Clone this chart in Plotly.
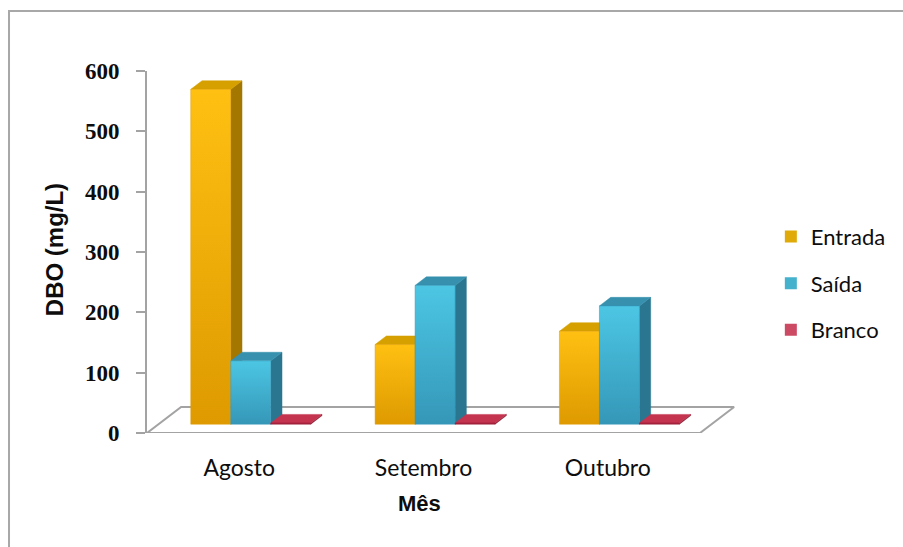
import plotly.graph_objects as go

# ---- data -------------------------------------------------------------
months = ["Agosto", "Setembro", "Outubro"]
series_names = ["Entrada", "Saída", "Branco"]
entrada = [555, 132, 154]
saida = [105, 230, 196]
branco = [2, 2, 2]
y_ticks = [0, 100, 200, 300, 400, 500, 600]

values = {"Entrada": entrada, "Saída": saida, "Branco": branco}

# ---- styling ----------------------------------------------------------
colors = {
    "Entrada": dict(bottom="#DE9A00", top="#FFC012", side="#A47700",
                    cap="#D6A000", legend="#E0AA08"),
    "Saída": dict(bottom="#3597B8", top="#4CC6E4", side="#2A7690",
                  cap="#3690AE", legend="#44B2CC"),
    "Branco": dict(bottom="#9A1E38", top="#B52A45", side="#861A31",
                   cap="#C4344F", legend="#CC4A64"),
}

BAR_W = 0.217            # width of one column, in category units
DEPTH_X = 0.185          # oblique shift of the full floor depth (x units)
DEPTH_Y = 43.0           # oblique shift of the full floor depth (y units)
BAR_FRONT, BAR_BACK = 0.34, 0.67   # depth position of the columns
X_RANGE = [-0.5, 2.717]
Y_RANGE = [0, 600]

EDGE = "#A3A3A3"
TEXT = "#0d0d0d"

fig = go.Figure()

# floor of the 3D plot area
n = len(months)
floor_x = [X_RANGE[0], n - 0.5, n - 0.5 + DEPTH_X, X_RANGE[0] + DEPTH_X, X_RANGE[0]]
floor_y = [0, 0, DEPTH_Y, DEPTH_Y, 0]
fig.add_trace(go.Scatter(
    x=floor_x, y=floor_y, mode="lines", fill="toself",
    fillcolor="white", line=dict(color=EDGE, width=2),
    hoverinfo="skip", showlegend=False))


def column_faces(x_left, v):
    """Front, side and top polygons of one oblique 3D column."""
    fx, fy = DEPTH_X * BAR_FRONT, DEPTH_Y * BAR_FRONT
    bx, by = DEPTH_X * BAR_BACK, DEPTH_Y * BAR_BACK
    x0f, x1f = x_left + fx, x_left + BAR_W + fx
    x0b, x1b = x_left + bx, x_left + BAR_W + bx
    front = ([x0f, x1f, x1f, x0f, x0f], [fy, fy, fy + v, fy + v, fy])
    side = ([x1f, x1b, x1b, x1f, x1f], [fy, by, by + v, fy + v, fy])
    top = ([x0f, x1f, x1b, x0b, x0f], [fy + v, fy + v, by + v, by + v, fy + v])
    return front, side, top


group_w = BAR_W * len(series_names)
for s, name in enumerate(series_names):
    c = colors[name]
    for i, v in enumerate(values[name]):
        x_left = i - group_w / 2 + s * BAR_W
        front, side, top = column_faces(x_left, v)
        fig.add_trace(go.Scatter(
            x=side[0], y=side[1], mode="lines", fill="toself",
            fillcolor=c["side"], line=dict(width=0.5, color=c["side"]),
            hoverinfo="skip", showlegend=False))
        fig.add_trace(go.Scatter(
            x=top[0], y=top[1], mode="lines", fill="toself",
            fillcolor=c["cap"], line=dict(width=0.5, color=c["cap"]),
            hoverinfo="skip", showlegend=False))
        fig.add_trace(go.Scatter(
            x=front[0], y=front[1], mode="lines", fill="toself",
            fillgradient=dict(type="vertical",
                              colorscale=[[0, c["bottom"]], [1, c["top"]]]),
            line=dict(width=0.5, color=c["bottom"]),
            name=name, text=[f"{months[i]}: {v}"] * 5, hoverinfo="text",
            showlegend=False))

# legend entries
for name in series_names:
    fig.add_trace(go.Scatter(
        x=[None], y=[None], mode="markers", name=name, legendgroup=name,
        marker=dict(symbol="square", size=12, color=colors[name]["legend"]),
    ))

fig.update_layout(
    width=903, height=547,
    margin=dict(l=147, r=163, t=71, b=114),
    paper_bgcolor="white", plot_bgcolor="white",
    showlegend=True,
    legend=dict(
        x=1.052, xanchor="left", y=0.60, yanchor="top",
        font=dict(family="Lato", size=22, color=TEXT),
        tracegroupgap=15, traceorder="grouped",
        itemwidth=30,
        bgcolor="rgba(0,0,0,0)",
    ),
    xaxis=dict(
        range=X_RANGE, tickvals=list(range(n)), ticktext=months,
        showline=False, showgrid=False, zeroline=False, ticks="",
        tickfont=dict(family="Lato", size=23, color=TEXT),
        ticklabelstandoff=19, fixedrange=True,
    ),
    yaxis=dict(
        range=Y_RANGE, tickvals=y_ticks,
        showline=True, linecolor=EDGE, linewidth=2,
        ticks="outside", ticklen=9, tickwidth=2, tickcolor=EDGE,
        showgrid=False, zeroline=False,
        tickfont=dict(family="Liberation Serif", size=23, color=TEXT,
                      weight="bold"),
        ticklabelstandoff=12, fixedrange=True,
    ),
    annotations=[
        dict(text="<b>Mês</b>", x=0.98, xref="x", y=-0.1934, yref="paper",
             xanchor="center", yanchor="middle", showarrow=False,
             font=dict(family="Liberation Sans", size=22, color=TEXT)),
        dict(text="<b>DBO (mg/L)</b>", x=-0.1565, xref="paper",
             y=0.5055, yref="paper", textangle=-90,
             xanchor="center", yanchor="middle", showarrow=False,
             font=dict(family="Liberation Sans", size=24, color=TEXT)),
    ],
    shapes=[
        dict(type="rect", xref="paper", yref="paper",
             x0=-0.2327, y0=-0.33, x1=1.29, y1=1.1657,
             line=dict(color="#A8A8A8", width=2), layer="below"),
    ],
)

fig.write_html("out.html")
